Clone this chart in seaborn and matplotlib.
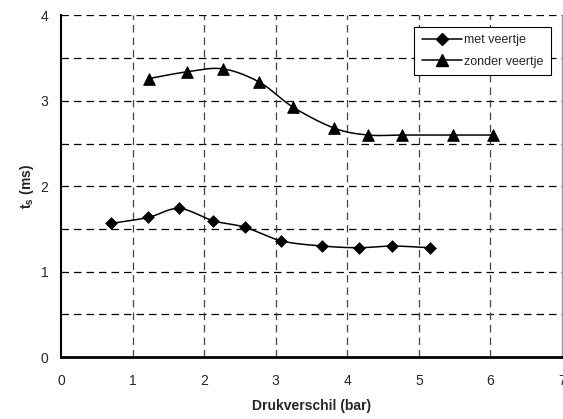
import numpy as np
import pandas as pd
import matplotlib
matplotlib.use("Agg")
import matplotlib.pyplot as plt
import seaborn as sns
from matplotlib.lines import Line2D
from matplotlib.ticker import MultipleLocator
from matplotlib.font_manager import FontProperties

# --- data ---
met_x = [0.70, 1.22, 1.65, 2.13, 2.57, 3.08, 3.65, 4.16, 4.62, 5.15]
met_y = [1.565, 1.635, 1.74, 1.595, 1.52, 1.36, 1.30, 1.28, 1.30, 1.28]
zonder_x = [1.225, 1.755, 2.26, 2.77, 3.245, 3.82, 4.29, 4.77, 5.48, 6.03]
zonder_y = [3.26, 3.34, 3.375, 3.22, 2.925, 2.68, 2.60, 2.60, 2.60, 2.60]
labels = ["met veertje", "zonder veertje"]
x_label = "Drukverschil (bar)"
y_label = r"t$_{\mathsf{s}}$ (ms)"

sns.set_style("white")
plt.rcParams["font.family"] = ["Liberation Sans", "DejaVu Sans"]
plt.rcParams["mathtext.fontset"] = "custom"
plt.rcParams["mathtext.sf"] = "Liberation Sans:bold"


def smooth(xs, ys, n=20):
    """Excel-style smoothed line: Bezier segments with Catmull-Rom control points."""
    xs = np.asarray(xs, float)
    ys = np.asarray(ys, float)
    P = np.column_stack([xs, ys])
    P = np.vstack([P[0], P, P[-1]])
    out = []
    t = np.linspace(0, 1, n)[:, None]
    for i in range(1, len(P) - 2):
        p0, p1, p2, p3 = P[i - 1], P[i], P[i + 1], P[i + 2]
        c1 = p1 + (p2 - p0) / 6.0
        c2 = p2 - (p3 - p1) / 6.0
        seg = ((1 - t) ** 3) * p1 + 3 * ((1 - t) ** 2) * t * c1 + 3 * (1 - t) * t ** 2 * c2 + t ** 3 * p2
        out.append(seg if i == 1 else seg[1:])
    out = np.vstack(out)
    return out[:, 0], out[:, 1]


fig = plt.figure(figsize=(5.63, 4.19), dpi=100)
ax = fig.add_axes([61 / 563, 1 - 357 / 419, (562 - 61) / 563, (357 - 15.5) / 419])

df_met = pd.DataFrame({"x": met_x, "y": met_y})
df_zon = pd.DataFrame({"x": zonder_x, "y": zonder_y})

for xs, ys in [(met_x, met_y), (zonder_x, zonder_y)]:
    sx, sy = smooth(xs, ys)
    ax.plot(sx, sy, color="black", lw=1.1, zorder=3)

sns.scatterplot(data=df_met, x="x", y="y", marker="D", s=36, color="black",
                edgecolor="black", ax=ax, zorder=4, legend=False)
sns.scatterplot(data=df_zon, x="x", y="y", marker="^", s=70, color="black",
                edgecolor="black", ax=ax, zorder=4, legend=False)

ax.set_xlim(0, 7)
ax.set_ylim(0, 4)
ax.xaxis.set_major_locator(MultipleLocator(1))
ax.xaxis.set_minor_locator(MultipleLocator(0.5))
ax.yaxis.set_major_locator(MultipleLocator(1))

for v in np.arange(0.5, 4.01, 0.5):
    ax.axhline(v, color="black", lw=0.9, ls=(0, (6, 4)), zorder=1)
for v in range(1, 7):
    ax.axvline(v, color="#444444", lw=0.9, ls=(0, (6, 4)), zorder=1)

ax.spines["top"].set_visible(False)
ax.spines["right"].set_color("#999999")
ax.spines["right"].set_linewidth(1.0)
ax.spines["left"].set_linewidth(1.5)
ax.spines["bottom"].set_linewidth(2.0)
ax.spines["left"].set_color("black")
ax.spines["bottom"].set_color("black")

ax.tick_params(axis="both", which="major", direction="out", length=4, width=1,
               labelsize=10, color="black", pad=5)
ax.tick_params(axis="x", which="minor", direction="out", length=2.5, width=1, color="#555555")
ax.tick_params(axis="x", which="major", pad=8)

ax.set_xlabel(x_label, fontsize=10, fontweight="bold", labelpad=8)
ax.set_ylabel(y_label, fontsize=10, fontweight="bold")
ax.yaxis.set_label_coords(-0.05, 0.5)

handles = [
    Line2D([], [], color="black", lw=1.1, marker="D", markersize=6),
    Line2D([], [], color="black", lw=1.1, marker="^", markersize=8),
]
prop = FontProperties(family="Liberation Sans", style="normal", weight="normal", size=9)
leg = ax.legend(handles, labels, loc="upper right", bbox_to_anchor=(0.978, 0.967),
                prop=prop, frameon=True, fancybox=False, framealpha=1,
                edgecolor="black", handlelength=3.2, handletextpad=0.2,
                borderpad=0.6, labelspacing=0.75, borderaxespad=0)
leg.get_frame().set_linewidth(0.8)

fig.savefig("out.png", dpi=100)
